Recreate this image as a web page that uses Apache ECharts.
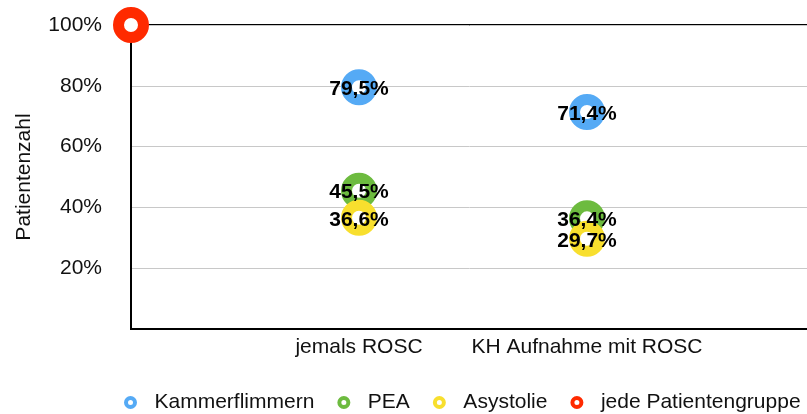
<!DOCTYPE html>
<html>
<head>
<meta charset="utf-8">
<script src="https://cdn.jsdelivr.net/npm/echarts@6/dist/echarts.min.js"></script>
<style>
  html, body { margin: 0; padding: 0; background: #fff; }
  #main { width: 807px; height: 414px; }
</style>
</head>
<body>
<div id="main"></div>
<script>
// Kategorien (erste/letzte leer, damit die Punkte wie im Original liegen)
const categories = ['', 'jemals ROSC', 'KH Aufnahme mit ROSC', '']
const kammerflimmern = [null, 79.5, 71.4, null]
const pea = [null, 45.5, 36.4, null]
const asystolie = [null, 36.6, 29.7, null]
const jedeGruppe = [100, null, null, null]
const yTicks = [0, 20, 40, 60, 80, 100]

const fontFam = '"Liberation Sans", Arial, sans-serif'

function fmt (v) {
  return v.toFixed(1).replace('.', ',') + '%'
}

function ring (name, data, color, withLabel) {
  return {
    name: name,
    type: 'scatter',
    data: data,
    symbol: 'circle',
    symbolSize: 25,
    clip: false,
    itemStyle: {
      color: '#fff',
      borderColor: color,
      borderWidth: 11,
      opacity: 1
    },
    label: {
      show: withLabel,
      position: 'inside',
      offset: [0, 2],
      formatter: p => fmt(p.value),
      color: '#000',
      fontWeight: 'bold',
      fontSize: 21,
      fontFamily: fontFam
    },
    emphasis: { disabled: true }
  }
}

var chart = echarts.init(document.getElementById('main'))
var option = {
  animation: false,
  textStyle: { fontFamily: fontFam },
  grid: {
    left: 131,
    top: 25,
    bottom: 85,
    width: 684,
    outerBoundsMode: 'none',
    containLabel: false,
    show: true,
    borderColor: '#000',
    borderWidth: 2
  },
  legend: {
    left: 119,
    top: 387,
    itemWidth: 38,
    itemHeight: 9,
    itemGap: 23,
    icon: 'circle',
    itemStyle: { color: '#fff', borderWidth: 4 },
    textStyle: { fontSize: 21, color: '#111', fontFamily: fontFam },
    data: ['Kammerflimmern', 'PEA', 'Asystolie', 'jede Patientengruppe']
  },
  xAxis: {
    type: 'category',
    data: categories,
    boundaryGap: false,
    axisLine: { lineStyle: { color: '#000', width: 2 } },
    axisTick: { show: false },
    axisLabel: { fontSize: 21, color: '#111', margin: 8, interval: 0 },
    splitLine: { show: false }
  },
  yAxis: {
    type: 'value',
    min: yTicks[0],
    max: yTicks[yTicks.length - 1],
    interval: 20,
    name: 'Patientenzahl',
    nameLocation: 'middle',
    nameGap: 96,
    nameTextStyle: { fontSize: 21, color: '#111' },
    axisLine: { show: true, lineStyle: { color: '#000', width: 2 } },
    axisTick: { show: false },
    axisLabel: {
      fontSize: 21,
      color: '#111',
      margin: 29,
      formatter: v => (v === 0 ? '' : v + '%')
    },
    splitLine: { lineStyle: { color: '#c8c8c8', width: 1 } }
  },
  series: [
    ring('Kammerflimmern', kammerflimmern, '#55aaf5', true),
    ring('PEA', pea, '#6dbb3f', true),
    ring('Asystolie', asystolie, '#f8df2e', true),
    ring('jede Patientengruppe', jedeGruppe, '#ff2a00', false)
  ]
}
option && chart.setOption(option)
</script>
</body>
</html>
